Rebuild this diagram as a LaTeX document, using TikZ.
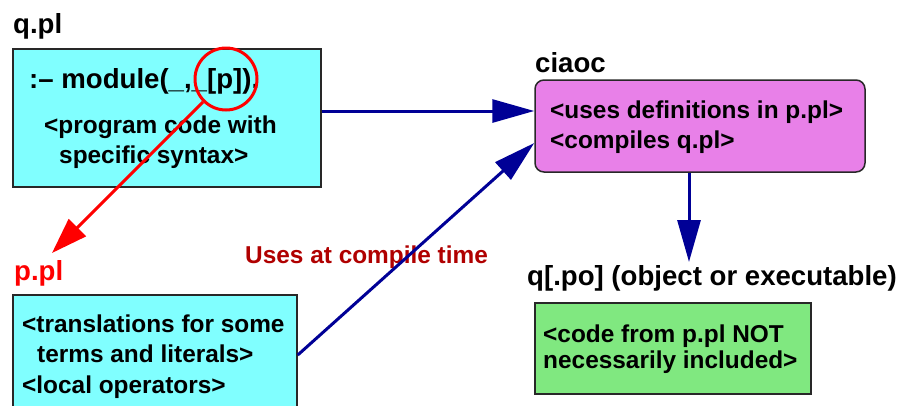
\documentclass[tikz,border=0pt]{standalone}
\usepackage{fontspec}
\setmainfont{Liberation Sans}
\usetikzlibrary{arrows.meta}
\definecolor{boxcyan}{RGB}{128,255,255}
\definecolor{boxmag}{RGB}{232,128,232}
\definecolor{boxgreen}{RGB}{128,232,128}
\definecolor{navyarrow}{RGB}{0,0,150}
\definecolor{labelred}{RGB}{176,0,0}
\definecolor{edgegray}{RGB}{40,40,40}
\begin{document}
\begin{tikzpicture}[x=1pt,y=-1pt,
  box/.style={draw=edgegray,line width=1.5pt,inner sep=0pt},
  txt/.style={anchor=base west,inner sep=0pt,font=\fontsize{24.4}{29}\selectfont\bfseries},
  lbl/.style={anchor=base west,inner sep=0pt,font=\fontsize{27.6}{32}\selectfont\bfseries},
  navyarr/.style={draw=navyarrow,line width=3pt,-{Triangle[length=42pt,width=23pt]}},
  redarr/.style={draw=red,line width=3pt,-{Triangle[length=36pt,width=24pt]}}]
\useasboundingbox (0,0) rectangle (901,405);
\clip (0,0) rectangle (901,405);
% boxes
\node[box,fill=boxcyan,minimum width=308pt,minimum height=138pt] (q) at (167,118) {};
\node[box,fill=boxcyan,minimum width=284pt,minimum height=120pt] (p) at (155,355) {};
\node[box,fill=boxmag,rounded corners=9pt,minimum width=330pt,minimum height=92pt] (c) at (700,126) {};
\node[box,fill=boxgreen,minimum width=276pt,minimum height=91pt] (o) at (673,348.5) {};
% labels
\node[lbl] (qlbl) at (13,33) {q.pl};
\node[lbl,text=red] (plbl) at (14,280) {p.pl};
\node[lbl] (clbl) at (535,72) {ciaoc};
\node[lbl] (olbl) at (527,285) {q[.po] (object or executable)};
\node[txt,text=labelred] (uses) at (245,263) {Uses at compile time};
% texts
\node[lbl] (qmod) at (29,88) {:– module(\_,\_[p]).};
\node[txt] (q1) at (44,133) {<program code with};
\node[txt] (q2) at (59,163) {specific syntax>};
\node[txt] (p1) at (22,332) {<translations for some};
\node[txt] (p2) at (37,362) {terms and literals>};
\node[txt] (p3) at (22,393) {<local operators>};
\node[txt] (c1) at (550,118) {<uses definitions in p.pl>};
\node[txt] (c2) at (550,148) {<compiles q.pl>};
\node[txt] (o1) at (543,342) {<code from p.pl NOT};
\node[txt] (o2) at (543,368) {necessarily included>};
% circle and arrows
\node[draw=red,line width=3pt,circle,minimum size=62pt,inner sep=0pt] (circ) at (226,79) {};
\coordinate (ptip) at (52,253);
\coordinate (otip) at (689,262);
\draw[redarr] (circ) -- (ptip);
\draw[navyarr] ([yshift=7pt]q.east) -- ([yshift=15pt]c.west);
\draw[navyarr] (p.east) -- ([yshift=-17pt]c.west);
\draw[navyarr] ([xshift=-11pt]c.south) -- (otip);
\end{tikzpicture}
\end{document}
